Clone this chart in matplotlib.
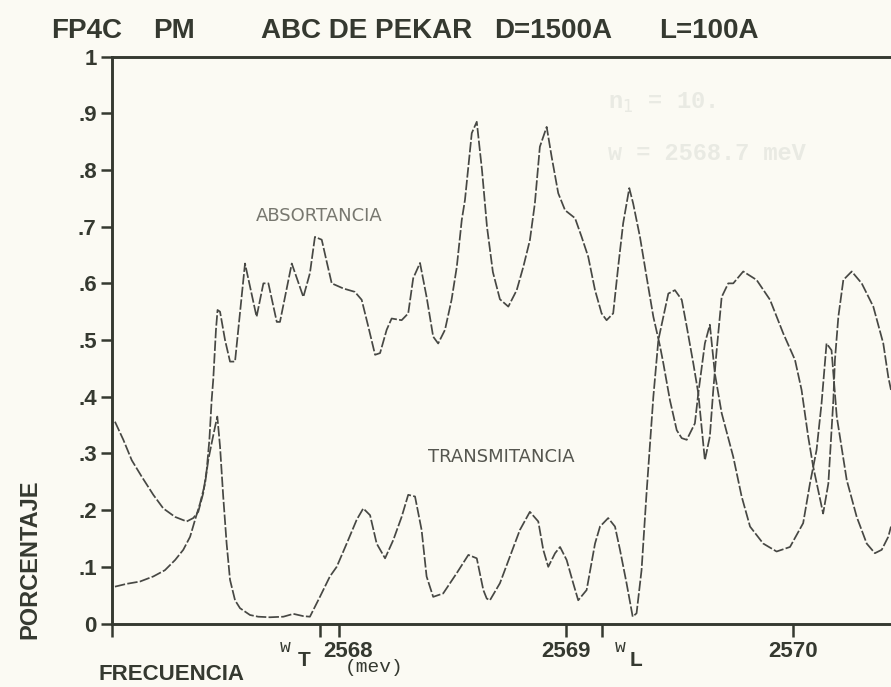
import numpy as np
import matplotlib
matplotlib.use("Agg")
import matplotlib.pyplot as plt
from matplotlib.transforms import ScaledTranslation

# frequency (meV) and fraction for the two computed spectra
freq_abs = [2567.013, 2567.050, 2567.087, 2567.131, 2567.182, 2567.226, 2567.278, 2567.329,
            2567.358, 2567.380, 2567.402, 2567.417, 2567.429, 2567.439, 2567.446, 2567.458,
            2567.465, 2567.476, 2567.498, 2567.520, 2567.542, 2567.586, 2567.637, 2567.667,
            2567.689, 2567.726, 2567.740, 2567.792, 2567.843, 2567.872, 2567.894, 2567.924,
            2567.946, 2567.968, 2568.019, 2568.070, 2568.100, 2568.129, 2568.159, 2568.181,
            2568.210, 2568.232, 2568.276, 2568.305, 2568.327, 2568.357, 2568.386, 2568.415,
            2568.437, 2568.467, 2568.496, 2568.519, 2568.541, 2568.555, 2568.585, 2568.607,
            2568.630, 2568.652, 2568.678, 2568.709, 2568.746, 2568.783, 2568.812, 2568.841,
            2568.863, 2568.885, 2568.915, 2568.937, 2568.966, 2568.996, 2569.040, 2569.069,
            2569.098, 2569.128, 2569.157, 2569.179, 2569.208, 2569.230, 2569.252, 2569.279,
            2569.296, 2569.326, 2569.355, 2569.385, 2569.414, 2569.429, 2569.458, 2569.488,
            2569.510, 2569.532, 2569.568, 2569.583, 2569.612, 2569.634, 2569.656, 2569.686,
            2569.737, 2569.774, 2569.811, 2569.869, 2569.928, 2569.987, 2570.045, 2570.075,
            2570.104, 2570.126, 2570.148, 2570.170, 2570.193, 2570.237, 2570.281, 2570.325,
            2570.361, 2570.391, 2570.420, 2570.432]
absorptancia = [0.356, 0.324, 0.288, 0.259, 0.227, 0.203, 0.188, 0.180,
                0.186, 0.197, 0.230, 0.270, 0.324, 0.394, 0.430, 0.518,
                0.553, 0.550, 0.500, 0.462, 0.462, 0.635, 0.541, 0.600,
                0.600, 0.532, 0.532, 0.635, 0.576, 0.618, 0.682, 0.677,
                0.638, 0.600, 0.591, 0.585, 0.571, 0.524, 0.474, 0.477,
                0.518, 0.538, 0.535, 0.547, 0.609, 0.636, 0.576, 0.506,
                0.494, 0.518, 0.571, 0.629, 0.712, 0.747, 0.865, 0.885,
                0.800, 0.700, 0.620, 0.572, 0.559, 0.588, 0.629, 0.676,
                0.741, 0.841, 0.876, 0.823, 0.759, 0.729, 0.715, 0.682,
                0.647, 0.588, 0.547, 0.535, 0.547, 0.629, 0.706, 0.768,
                0.741, 0.682, 0.612, 0.541, 0.490, 0.459, 0.394, 0.341,
                0.327, 0.324, 0.353, 0.406, 0.494, 0.527, 0.441, 0.371,
                0.294, 0.224, 0.171, 0.141, 0.127, 0.135, 0.177, 0.247,
                0.306, 0.388, 0.494, 0.482, 0.365, 0.253, 0.188, 0.141,
                0.124, 0.130, 0.153, 0.171]

freq_trans = [2567.013, 2567.065, 2567.123, 2567.182, 2567.233, 2567.278, 2567.314, 2567.344,
              2567.366, 2567.388, 2567.410, 2567.424, 2567.439, 2567.454, 2567.464, 2567.476,
              2567.490, 2567.505, 2567.520, 2567.542, 2567.564, 2567.608, 2567.644, 2567.696,
              2567.755, 2567.799, 2567.843, 2567.872, 2567.916, 2567.960, 2567.990, 2568.034,
              2568.078, 2568.107, 2568.137, 2568.166, 2568.203, 2568.239, 2568.276, 2568.305,
              2568.335, 2568.364, 2568.386, 2568.415, 2568.459, 2568.519, 2568.570, 2568.607,
              2568.636, 2568.651, 2568.665, 2568.709, 2568.753, 2568.797, 2568.841, 2568.878,
              2568.900, 2568.922, 2568.952, 2568.974, 2569.003, 2569.032, 2569.054, 2569.091,
              2569.128, 2569.150, 2569.186, 2569.216, 2569.238, 2569.267, 2569.294, 2569.311,
              2569.333, 2569.355, 2569.385, 2569.407, 2569.429, 2569.451, 2569.480, 2569.510,
              2569.532, 2569.561, 2569.583, 2569.612, 2569.634, 2569.649, 2569.664, 2569.686,
              2569.715, 2569.737, 2569.781, 2569.840, 2569.899, 2569.957, 2570.009, 2570.038,
              2570.067, 2570.089, 2570.133, 2570.156, 2570.178, 2570.185, 2570.200, 2570.222,
              2570.259, 2570.303, 2570.354, 2570.398, 2570.420, 2570.432]
transmitancia = [0.065, 0.070, 0.074, 0.083, 0.094, 0.112, 0.130, 0.153,
                 0.183, 0.212, 0.247, 0.288, 0.318, 0.347, 0.365, 0.312,
                 0.224, 0.141, 0.077, 0.041, 0.027, 0.015, 0.012, 0.011,
                 0.012, 0.017, 0.013, 0.012, 0.047, 0.083, 0.100, 0.141,
                 0.183, 0.203, 0.191, 0.141, 0.115, 0.147, 0.188, 0.227,
                 0.224, 0.165, 0.083, 0.047, 0.053, 0.089, 0.121, 0.115,
                 0.059, 0.044, 0.041, 0.071, 0.118, 0.165, 0.197, 0.180,
                 0.130, 0.100, 0.124, 0.135, 0.112, 0.071, 0.041, 0.059,
                 0.141, 0.171, 0.186, 0.171, 0.130, 0.071, 0.012, 0.018,
                 0.094, 0.230, 0.400, 0.500, 0.541, 0.582, 0.588, 0.571,
                 0.524, 0.459, 0.406, 0.288, 0.330, 0.412, 0.482, 0.576,
                 0.600, 0.600, 0.621, 0.606, 0.571, 0.512, 0.465, 0.412,
                 0.330, 0.277, 0.194, 0.247, 0.394, 0.465, 0.541, 0.606,
                 0.621, 0.600, 0.559, 0.494, 0.435, 0.412]

y_ticks = [0, 0.1, 0.2, 0.3, 0.4, 0.5, 0.6, 0.7, 0.8, 0.9, 1.0]
y_tick_labels = ["0", ".1", ".2", ".3", ".4", ".5", ".6", ".7", ".8", ".9", "1"]
w_t = 2567.916
w_l = 2569.160
x_ticks = [2567.0, w_t, 2568, 2569, w_l, 2570]
x_tick_labels = ["", "", "2568", "2569", "", "2570"]

paper = "#fbfaf3"
ink = "#353930"
pen = "#474844"
plotter = ["Liberation Sans", "DejaVu Sans"]
thin = ["DejaVu Sans"]
mono = ["Liberation Mono", "DejaVu Sans Mono"]

fig = plt.figure(figsize=(8.91, 6.87), dpi=100, facecolor=paper)
ax = fig.add_axes([112 / 891, 63.5 / 687, 779 / 891, 566.9 / 687])
ax.set_facecolor(paper)

# pale lettering showing through from the sheet underneath
fig.text(608 / 891, 1 - 103 / 687, "n$_1$ = 10.", family=mono, weight="bold",
         fontsize=17, color="#e9eae3", va="center", zorder=0)
fig.text(608 / 891, 1 - 153 / 687, "w = 2568.7 meV", family=mono, weight="bold",
         fontsize=17, color="#e9eae3", va="center", zorder=0)

ax.plot(freq_abs, absorptancia, color=pen, lw=1.25, ls=(0, (6, 1.3)), zorder=3)
ax.plot(freq_trans, transmitancia, color=pen, lw=1.25, ls=(0, (6, 1.3)), zorder=3)

ax.set_xlim(2567.0, 2570.432)
ax.set_ylim(0, 1)

for side in ["left", "top", "bottom"]:
    ax.spines[side].set_linewidth(2.1)
    ax.spines[side].set_color(ink)
ax.spines["right"].set_visible(False)

ax.set_yticks(y_ticks)
ax.set_yticklabels(y_tick_labels)
ax.set_xticks(x_ticks)
ax.set_xticklabels(x_tick_labels)
ax.tick_params(axis="y", direction="out", length=8, width=1.8, color=ink, pad=3,
               labelsize=16, labelcolor=ink)
ax.tick_params(axis="x", direction="out", length=9.5, width=1.8, color=ink, pad=3,
               labelsize=16, labelcolor=ink)
for lbl in ax.get_xticklabels() + ax.get_yticklabels():
    lbl.set_family(plotter)
    lbl.set_weight("bold")
# the 2568 label sits to the right of its tick, clear of the w_T mark
lbl2568 = ax.get_xticklabels()[2]
lbl2568.set_transform(lbl2568.get_transform() + ScaledTranslation(9 / 100, 0, fig.dpi_scale_trans))

# curve names
ax.text(2567.915, 0.718, "ABSORTANCIA", family=thin, fontsize=13, color="#77776f",
        ha="center", va="center")
ax.text(2568.715, 0.294, "TRANSMITANCIA", family=thin, fontsize=13, color="#55564f",
        ha="center", va="center")

# title and axis captions
title_parts = [(51, "FP4C"), (153, "PM"), (261, "ABC DE PEKAR"), (494, "D=1500A"), (659, "L=100A")]
for px, txt in title_parts:
    fig.text(px / 891, 1 - 38 / 687, txt, family=plotter, weight="bold", fontsize=20,
             color=ink, ha="left", va="baseline")
fig.text(99 / 891, 1 - 674 / 687, "FRECUENCIA", family=plotter, weight="bold", fontsize=16,
         color=ink, ha="left", va="center")
fig.text(374 / 891, 1 - 667 / 687, "(mev)", family=mono, fontsize=14, color=ink,
         ha="center", va="center")
fig.text(30 / 891, 1 - 559 / 687, "PORCENTAJE", family=plotter, weight="bold", fontsize=17,
         color=ink, ha="center", va="center", rotation=90)

# resonance marks under the axis
fig.text(285 / 891, 1 - 647 / 687, "w", family=mono, fontsize=13, color=ink, ha="center", va="center")
fig.text(304 / 891, 1 - 661 / 687, "T", family=plotter, weight="bold", fontsize=15, color=ink,
         ha="center", va="center")
fig.text(620 / 891, 1 - 647 / 687, "w", family=mono, fontsize=13, color=ink, ha="center", va="center")
fig.text(636 / 891, 1 - 661 / 687, "L", family=plotter, weight="bold", fontsize=15, color=ink,
         ha="center", va="center")

fig.savefig("out.png", dpi=100, facecolor=paper)
